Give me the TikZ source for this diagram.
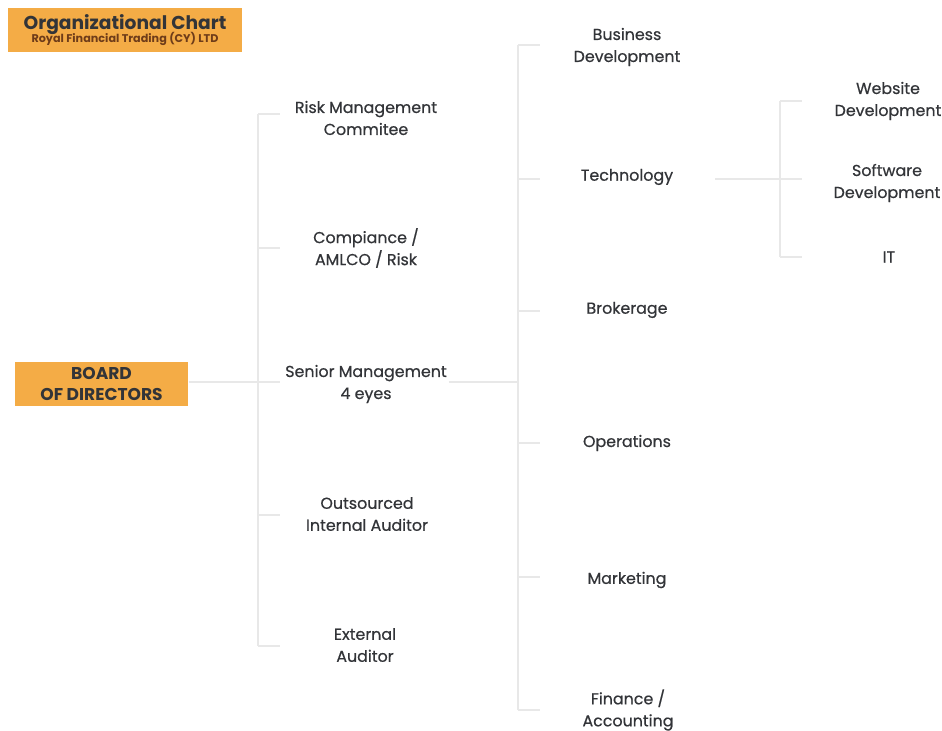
\documentclass[tikz,border=0pt]{standalone}
\usepackage{fontspec}
\setmainfont{Poppins}[UprightFeatures={FakeBold=0.6}]
\usepackage{xcolor}
\usetikzlibrary{positioning}

\definecolor{chartorange}{RGB}{244,172,70}
\definecolor{chartline}{RGB}{232,232,232}
\definecolor{charttext}{RGB}{50,52,56}
\definecolor{chartbrown}{RGB}{110,60,25}

\begin{document}
\begin{tikzpicture}[x=0.75pt,y=-0.75pt,line width=0.8pt]
        \tikzstyle{unit}=[align=center,text=charttext,font=\fontsize{11.9}{16.5}\selectfont,inner sep=1pt]
        \tikzstyle{headbox}=[fill=chartorange,align=center,inner sep=0pt]
        \tikzstyle{link}=[draw=chartline]

        \useasboundingbox (0,0) rectangle (942,731);

        % title and board
        \node[headbox,minimum width=234*0.75pt,minimum height=44*0.75pt] (T) at (125,30)
            {{\fontsize{14}{16}\selectfont\bfseries\color{charttext}Organizational Chart}\\[-2.5pt]
             {\fontsize{8.4}{9}\selectfont\bfseries\color{chartbrown}Royal Financial Trading (CY) LTD}};
        \node[headbox,minimum width=173*0.75pt,minimum height=44*0.75pt,font=\fontsize{12.8}{15.8}\selectfont\bfseries,text=charttext] (BD) at (101.5,384)
            {BOARD\\OF DIRECTORS};

        % first level
        \node[unit] (RM) at (366,118) {Risk Management\\Commitee};
        \node[unit] (CA) at (366,248) {Compiance /\\AMLCO / Risk};
        \node[unit] (SM) at (366,384) {Senior Management\\4 eyes};
        \node[unit] (OA) at (367,514) {Outsourced\\Internal Auditor};
        \node[unit] (EA) at (365,645) {External\\Auditor};

        % second level
        \node[unit] (BU) at (627,47)  {Business\\Development};
        \node[unit] (TE) at (627,177) {Technology};
        \node[unit] (BR) at (627,310) {Brokerage};
        \node[unit] (OP) at (627,443) {Operations};
        \node[unit] (MA) at (627,580) {Marketing};
        \node[unit] (FA) at (628,710) {Finance /\\Accounting};

        % third level
        \node[unit] (WD) at (888,101) {Website\\Development};
        \node[unit] (SD) at (887,183) {Software\\Development};
        \node[unit] (IT) at (889,257) {IT};

        % trunks
        \coordinate (L1) at (258,382);
        \coordinate (L2) at (518,382);
        \coordinate (L3) at (780,179);

        \draw[link] (BD.east |- L1) -- (L1) -- ++(22,0);
        \draw[link] (L1 |- 0,114) -- (L1 |- 0,646);
        \foreach \y in {114,248,515,646}
            \draw[link] (L1 |- 0,\y) -- ++(22,0);

        \draw[link] (SM.east |- L2) -- (L2);
        \draw[link] (L2 |- 0,45) -- (L2 |- 0,710);
        \foreach \y in {45,179,311,443,577,710}
            \draw[link] (L2 |- 0,\y) -- ++(22,0);

        \draw[link] (715,179) -- (L3);
        \draw[link] (L3 |- 0,101) -- (L3 |- 0,257);
        \foreach \y in {101,179,257}
            \draw[link] (L3 |- 0,\y) -- ++(22,0);
    \end{tikzpicture}
\end{document}
